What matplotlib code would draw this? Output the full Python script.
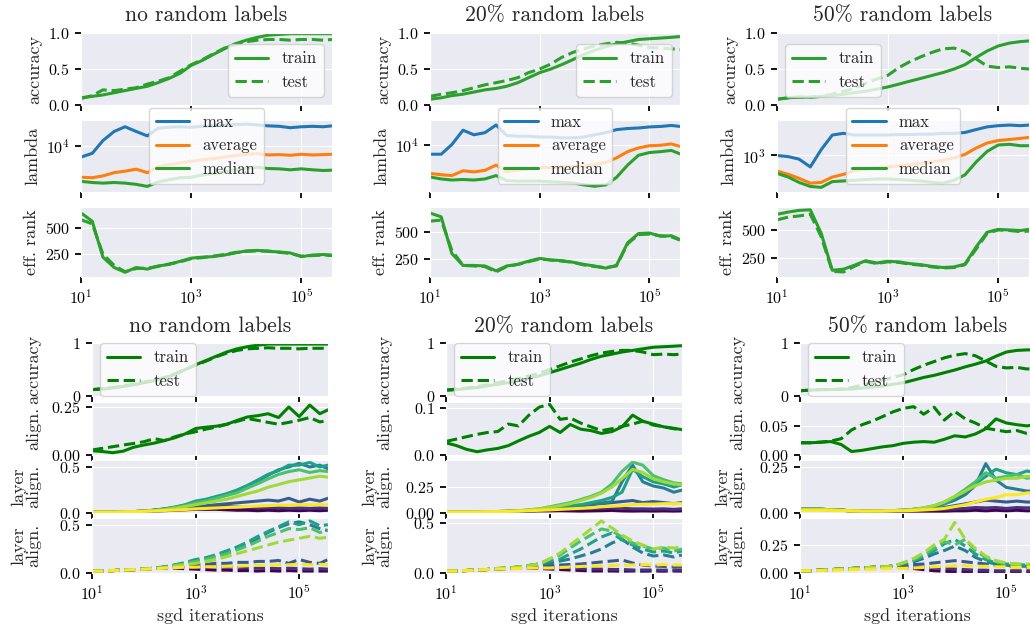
import numpy as np
import matplotlib
matplotlib.use("Agg")
import matplotlib.pyplot as plt
from matplotlib.ticker import NullLocator
import seaborn as sns

# ------ DATA

iters = [10, 16, 25, 40, 63, 100, 160, 250, 400, 630, 1000, 1600, 2500, 4000,
         6300, 10000, 16000, 25000, 40000, 63000, 100000, 160000, 250000, 360000]

titles = ["no random labels", "20% random labels", "50% random labels"]

# top block: accuracy
acc_train = [
    [0.10, 0.12, 0.14, 0.17, 0.20, 0.23, 0.26, 0.31, 0.37, 0.44, 0.55, 0.62, 0.70, 0.78, 0.85, 0.90, 0.94, 0.97, 0.98, 0.99, 0.99, 0.99, 0.99, 0.99],
    [0.08, 0.10, 0.13, 0.15, 0.18, 0.21, 0.23, 0.26, 0.31, 0.38, 0.45, 0.50, 0.56, 0.63, 0.70, 0.76, 0.81, 0.85, 0.88, 0.91, 0.92, 0.93, 0.94, 0.95],
    [0.08, 0.10, 0.11, 0.11, 0.12, 0.13, 0.15, 0.17, 0.19, 0.22, 0.25, 0.29, 0.33, 0.37, 0.41, 0.45, 0.50, 0.56, 0.66, 0.75, 0.82, 0.86, 0.88, 0.89],
]
acc_test = [
    [0.09, 0.13, 0.21, 0.20, 0.22, 0.24, 0.29, 0.33, 0.38, 0.47, 0.56, 0.63, 0.71, 0.79, 0.84, 0.88, 0.90, 0.91, 0.91, 0.90, 0.91, 0.91, 0.90, 0.91],
    [0.12, 0.15, 0.17, 0.20, 0.24, 0.28, 0.31, 0.34, 0.38, 0.45, 0.50, 0.57, 0.66, 0.73, 0.78, 0.82, 0.85, 0.87, 0.86, 0.83, 0.80, 0.79, 0.78, 0.77],
    [0.08, 0.10, 0.11, 0.11, 0.12, 0.15, 0.19, 0.23, 0.30, 0.36, 0.41, 0.52, 0.60, 0.67, 0.73, 0.78, 0.79, 0.74, 0.64, 0.54, 0.52, 0.53, 0.51, 0.50],
]

# top block: lambda (hessian eigenvalues)
lam_max = [
    [5900, 7000, 12500, 19000, 23500, 19000, 15500, 22000, 23000, 23500, 23000, 24000, 24500, 25500, 26000, 26500, 25500, 24500, 24000, 22500, 23500, 24000, 23500, 24500],
    [6500, 6500, 10000, 19000, 15500, 17000, 24000, 15000, 14500, 14500, 14000, 14000, 13500, 13500, 14000, 15500, 17000, 19500, 20500, 21000, 22000, 22500, 23500, 22500],
    [1000, 950, 850, 600, 1300, 2500, 2700, 2500, 2500, 2500, 2500, 2550, 2550, 2600, 2600, 2700, 2700, 2800, 3200, 3600, 3800, 3900, 3800, 3900],
]
lam_avg = [
    [2350, 2300, 2500, 2900, 3100, 3400, 2900, 3800, 4200, 4500, 4900, 5200, 5500, 5900, 6300, 6700, 6900, 6500, 6600, 6400, 6700, 6500, 6600, 6700],
    [2750, 2600, 2500, 3100, 2950, 3150, 4000, 3000, 3200, 3400, 3500, 3600, 3650, 3700, 3800, 4100, 4500, 5500, 7300, 8600, 9500, 9700, 10300, 9200],
    [500, 430, 360, 290, 300, 380, 430, 510, 540, 570, 600, 630, 660, 700, 750, 810, 900, 1050, 1400, 1750, 1950, 2050, 2150, 2250],
]
lam_med = [
    [1950, 1850, 1800, 1850, 1800, 1700, 1550, 1900, 2100, 2300, 2350, 2600, 2800, 3000, 3300, 3600, 3700, 3500, 3450, 3300, 3450, 3300, 3200, 3250],
    [2350, 2150, 2050, 2100, 2050, 2150, 2500, 2000, 1950, 1950, 1950, 1900, 1850, 1800, 1650, 1550, 1650, 2300, 4000, 6200, 7000, 7300, 7700, 6600],
    [450, 380, 300, 250, 240, 310, 320, 330, 340, 350, 350, 340, 330, 320, 300, 290, 330, 420, 750, 1200, 1600, 1650, 1550, 1550],
]
lam_ticks = [1e4, 1e4, 1e3]
lam_lims = [(1200, 32000), (1200, 30000), (195, 4900)]

# top block: effective rank
rank_train = [
    [645, 565, 220, 120, 75, 120, 105, 135, 150, 180, 210, 220, 225, 240, 260, 280, 285, 275, 270, 260, 225, 240, 245, 240],
    [675, 640, 300, 190, 190, 185, 140, 185, 200, 230, 255, 240, 235, 220, 200, 185, 165, 190, 400, 485, 490, 460, 465, 430],
    [640, 660, 675, 680, 470, 140, 150, 185, 225, 205, 220, 215, 200, 190, 175, 165, 170, 195, 350, 480, 505, 500, 495, 505],
]
rank_test = [
    [580, 540, 250, 140, 80, 110, 115, 130, 155, 175, 205, 215, 230, 245, 265, 275, 280, 280, 265, 255, 230, 235, 240, 235],
    [600, 610, 330, 190, 185, 180, 130, 180, 200, 225, 250, 240, 230, 220, 195, 180, 170, 185, 390, 475, 480, 465, 455, 425],
    [590, 615, 625, 640, 440, 130, 125, 175, 220, 200, 215, 210, 195, 185, 170, 160, 165, 190, 330, 470, 500, 495, 485, 490],
]
rank_lims = [(29, 702), (83, 731), (80, 705)]

# bottom block: accuracy
acc2_train = [
    [0.12, 0.13, 0.15, 0.18, 0.21, 0.25, 0.29, 0.34, 0.41, 0.50, 0.59, 0.67, 0.75, 0.83, 0.89, 0.93, 0.96, 0.98, 0.98, 0.98, 0.98, 0.98, 0.98, 0.98],
    [0.11, 0.12, 0.14, 0.16, 0.19, 0.22, 0.25, 0.29, 0.33, 0.38, 0.44, 0.50, 0.56, 0.62, 0.69, 0.75, 0.79, 0.83, 0.86, 0.89, 0.92, 0.93, 0.94, 0.95],
    [0.10, 0.11, 0.12, 0.12, 0.13, 0.13, 0.15, 0.17, 0.19, 0.22, 0.25, 0.30, 0.35, 0.39, 0.44, 0.49, 0.55, 0.60, 0.66, 0.75, 0.83, 0.86, 0.87, 0.87],
]
acc2_test = [
    [0.12, 0.14, 0.16, 0.19, 0.22, 0.26, 0.30, 0.35, 0.42, 0.50, 0.58, 0.66, 0.74, 0.81, 0.86, 0.89, 0.90, 0.91, 0.90, 0.90, 0.89, 0.90, 0.90, 0.90],
    [0.11, 0.13, 0.15, 0.18, 0.21, 0.25, 0.29, 0.33, 0.38, 0.43, 0.50, 0.57, 0.64, 0.70, 0.76, 0.81, 0.84, 0.86, 0.86, 0.83, 0.78, 0.79, 0.78, 0.79],
    [0.10, 0.11, 0.12, 0.12, 0.13, 0.16, 0.20, 0.24, 0.30, 0.35, 0.40, 0.50, 0.58, 0.65, 0.72, 0.77, 0.80, 0.76, 0.66, 0.56, 0.53, 0.54, 0.51, 0.52],
]

# bottom block: alignment of the whole network
align_train = [
    [0.022, 0.018, 0.012, 0.020, 0.040, 0.052, 0.062, 0.075, 0.090, 0.110, 0.138, 0.145, 0.150, 0.160, 0.180, 0.198, 0.205, 0.215, 0.195, 0.250, 0.200, 0.260, 0.215, 0.235],
    [0.026, 0.020, 0.012, 0.007, 0.011, 0.014, 0.020, 0.030, 0.040, 0.048, 0.061, 0.048, 0.065, 0.055, 0.052, 0.046, 0.050, 0.060, 0.085, 0.072, 0.066, 0.060, 0.057, 0.054],
    [0.021, 0.021, 0.022, 0.023, 0.018, 0.006, 0.008, 0.011, 0.014, 0.016, 0.020, 0.022, 0.023, 0.022, 0.027, 0.033, 0.031, 0.036, 0.045, 0.062, 0.055, 0.052, 0.050, 0.052],
]
align_test = [
    [0.026, 0.035, 0.043, 0.052, 0.060, 0.069, 0.085, 0.075, 0.095, 0.110, 0.121, 0.135, 0.145, 0.160, 0.175, 0.190, 0.180, 0.170, 0.160, 0.170, 0.181, 0.195, 0.172, 0.180],
    [0.029, 0.034, 0.039, 0.044, 0.048, 0.050, 0.066, 0.062, 0.085, 0.102, 0.108, 0.076, 0.079, 0.068, 0.060, 0.052, 0.056, 0.061, 0.066, 0.072, 0.064, 0.060, 0.056, 0.054],
    [0.021, 0.021, 0.022, 0.024, 0.028, 0.043, 0.052, 0.058, 0.066, 0.074, 0.080, 0.083, 0.070, 0.082, 0.060, 0.075, 0.062, 0.055, 0.046, 0.043, 0.040, 0.042, 0.037, 0.038],
]
align_ticks = [[0, 0.25], [0, 0.1], [0, 0.05]]
align_tops = [0.276, 0.113, 0.091]

# bottom block: per-layer alignment, 8 layers (first = input side)
layers_train_none = [
    [0.01, 0.01, 0.01, 0.01, 0.012, 0.015, 0.02, 0.025, 0.03, 0.035, 0.04, 0.04, 0.04, 0.035, 0.03, 0.03, 0.025, 0.03, 0.025, 0.03, 0.025, 0.03, 0.025, 0.03],
    [0.01, 0.01, 0.01, 0.012, 0.015, 0.02, 0.03, 0.04, 0.05, 0.055, 0.06, 0.065, 0.07, 0.07, 0.065, 0.06, 0.06, 0.055, 0.06, 0.05, 0.055, 0.05, 0.055, 0.05],
    [0.01, 0.01, 0.01, 0.012, 0.015, 0.02, 0.03, 0.04, 0.05, 0.06, 0.07, 0.08, 0.09, 0.10, 0.11, 0.12, 0.13, 0.14, 0.13, 0.16, 0.12, 0.15, 0.13, 0.16],
    [0.01, 0.01, 0.01, 0.012, 0.015, 0.02, 0.03, 0.045, 0.06, 0.085, 0.12, 0.14, 0.17, 0.20, 0.24, 0.29, 0.35, 0.41, 0.47, 0.50, 0.54, 0.50, 0.52, 0.48],
    [0.01, 0.01, 0.01, 0.012, 0.015, 0.02, 0.03, 0.045, 0.065, 0.09, 0.13, 0.15, 0.18, 0.21, 0.25, 0.30, 0.36, 0.42, 0.46, 0.52, 0.52, 0.55, 0.50, 0.52],
    [0.01, 0.01, 0.01, 0.012, 0.015, 0.02, 0.03, 0.04, 0.06, 0.08, 0.11, 0.13, 0.16, 0.19, 0.22, 0.27, 0.32, 0.37, 0.42, 0.45, 0.47, 0.44, 0.46, 0.45],
    [0.01, 0.01, 0.01, 0.012, 0.015, 0.02, 0.025, 0.035, 0.05, 0.07, 0.09, 0.11, 0.13, 0.15, 0.18, 0.21, 0.24, 0.28, 0.31, 0.34, 0.36, 0.38, 0.40, 0.39],
    [0.01, 0.01, 0.01, 0.012, 0.015, 0.018, 0.022, 0.027, 0.032, 0.038, 0.045, 0.05, 0.055, 0.06, 0.065, 0.07, 0.075, 0.08, 0.085, 0.085, 0.09, 0.09, 0.09, 0.09],
]
layers_test_none = [
    [0.02, 0.02, 0.025, 0.03, 0.035, 0.04, 0.045, 0.05, 0.05, 0.045, 0.04, 0.035, 0.03, 0.03, 0.025, 0.025, 0.02, 0.025, 0.02, 0.025, 0.02, 0.02, 0.02, 0.02],
    [0.02, 0.02, 0.025, 0.03, 0.035, 0.04, 0.05, 0.055, 0.06, 0.065, 0.07, 0.07, 0.065, 0.06, 0.06, 0.055, 0.05, 0.05, 0.045, 0.05, 0.045, 0.04, 0.045, 0.04],
    [0.02, 0.02, 0.025, 0.03, 0.035, 0.04, 0.05, 0.06, 0.07, 0.08, 0.09, 0.09, 0.10, 0.10, 0.11, 0.11, 0.12, 0.12, 0.13, 0.10, 0.14, 0.11, 0.10, 0.14],
    [0.02, 0.02, 0.025, 0.03, 0.035, 0.04, 0.05, 0.06, 0.08, 0.10, 0.13, 0.15, 0.18, 0.21, 0.26, 0.31, 0.36, 0.42, 0.47, 0.51, 0.53, 0.50, 0.46, 0.44],
    [0.02, 0.02, 0.025, 0.03, 0.035, 0.04, 0.05, 0.065, 0.085, 0.11, 0.14, 0.16, 0.19, 0.23, 0.27, 0.32, 0.38, 0.43, 0.48, 0.53, 0.50, 0.54, 0.49, 0.50],
    [0.02, 0.02, 0.025, 0.03, 0.035, 0.04, 0.05, 0.06, 0.08, 0.10, 0.12, 0.14, 0.17, 0.20, 0.24, 0.28, 0.33, 0.38, 0.42, 0.46, 0.45, 0.47, 0.42, 0.44],
    [0.02, 0.02, 0.025, 0.03, 0.035, 0.04, 0.045, 0.055, 0.07, 0.085, 0.10, 0.12, 0.14, 0.17, 0.20, 0.23, 0.26, 0.29, 0.32, 0.34, 0.36, 0.38, 0.36, 0.37],
    [0.02, 0.02, 0.025, 0.03, 0.035, 0.04, 0.045, 0.05, 0.055, 0.06, 0.06, 0.065, 0.065, 0.07, 0.07, 0.075, 0.08, 0.08, 0.085, 0.085, 0.09, 0.085, 0.09, 0.085],
]
layers_train_20 = [
    [0.01, 0.01, 0.01, 0.01, 0.01, 0.012, 0.014, 0.016, 0.018, 0.02, 0.02, 0.022, 0.02, 0.018, 0.02, 0.022, 0.025, 0.02, 0.018, 0.02, 0.018, 0.02, 0.018, 0.02],
    [0.01, 0.01, 0.01, 0.01, 0.01, 0.012, 0.015, 0.018, 0.02, 0.025, 0.03, 0.035, 0.04, 0.04, 0.045, 0.045, 0.05, 0.045, 0.04, 0.04, 0.038, 0.04, 0.035, 0.04],
    [0.01, 0.01, 0.01, 0.01, 0.01, 0.012, 0.015, 0.02, 0.025, 0.03, 0.04, 0.05, 0.06, 0.07, 0.08, 0.09, 0.10, 0.11, 0.12, 0.10, 0.11, 0.10, 0.09, 0.10],
    [0.01, 0.01, 0.01, 0.01, 0.012, 0.014, 0.017, 0.02, 0.025, 0.035, 0.045, 0.055, 0.065, 0.075, 0.085, 0.095, 0.11, 0.30, 0.46, 0.30, 0.26, 0.24, 0.20, 0.22],
    [0.01, 0.01, 0.01, 0.01, 0.012, 0.014, 0.017, 0.02, 0.025, 0.035, 0.05, 0.06, 0.07, 0.08, 0.10, 0.12, 0.15, 0.20, 0.42, 0.35, 0.30, 0.28, 0.25, 0.27],
    [0.01, 0.01, 0.01, 0.01, 0.012, 0.014, 0.017, 0.022, 0.03, 0.04, 0.06, 0.08, 0.10, 0.13, 0.16, 0.20, 0.28, 0.40, 0.49, 0.46, 0.36, 0.32, 0.29, 0.28],
    [0.01, 0.01, 0.01, 0.01, 0.012, 0.014, 0.017, 0.022, 0.03, 0.04, 0.055, 0.07, 0.09, 0.12, 0.15, 0.19, 0.25, 0.33, 0.42, 0.39, 0.33, 0.30, 0.28, 0.27],
    [0.01, 0.01, 0.01, 0.01, 0.012, 0.014, 0.016, 0.018, 0.022, 0.026, 0.03, 0.035, 0.04, 0.045, 0.05, 0.06, 0.065, 0.07, 0.08, 0.085, 0.085, 0.09, 0.09, 0.09],
]
layers_test_20 = [
    [0.02, 0.02, 0.025, 0.03, 0.035, 0.04, 0.045, 0.05, 0.05, 0.045, 0.04, 0.035, 0.03, 0.025, 0.02, 0.02, 0.02, 0.018, 0.02, 0.018, 0.02, 0.018, 0.02, 0.018],
    [0.02, 0.02, 0.025, 0.03, 0.035, 0.04, 0.045, 0.05, 0.055, 0.06, 0.06, 0.055, 0.05, 0.045, 0.04, 0.04, 0.035, 0.035, 0.03, 0.03, 0.03, 0.028, 0.03, 0.028],
    [0.02, 0.02, 0.025, 0.03, 0.035, 0.04, 0.045, 0.055, 0.06, 0.07, 0.075, 0.08, 0.085, 0.09, 0.10, 0.11, 0.12, 0.13, 0.10, 0.08, 0.07, 0.065, 0.06, 0.06],
    [0.02, 0.02, 0.025, 0.03, 0.035, 0.045, 0.05, 0.06, 0.075, 0.09, 0.10, 0.12, 0.14, 0.17, 0.20, 0.24, 0.30, 0.34, 0.26, 0.20, 0.17, 0.18, 0.16, 0.18],
    [0.02, 0.02, 0.025, 0.03, 0.035, 0.045, 0.05, 0.06, 0.075, 0.09, 0.12, 0.14, 0.19, 0.24, 0.30, 0.36, 0.40, 0.33, 0.28, 0.24, 0.21, 0.22, 0.20, 0.22],
    [0.02, 0.02, 0.025, 0.03, 0.035, 0.045, 0.05, 0.06, 0.075, 0.09, 0.14, 0.18, 0.25, 0.32, 0.38, 0.44, 0.42, 0.36, 0.30, 0.27, 0.24, 0.25, 0.22, 0.24],
    [0.02, 0.02, 0.025, 0.03, 0.035, 0.045, 0.05, 0.06, 0.075, 0.09, 0.14, 0.20, 0.28, 0.36, 0.44, 0.52, 0.45, 0.38, 0.32, 0.28, 0.24, 0.26, 0.25, 0.26],
    [0.02, 0.02, 0.025, 0.03, 0.035, 0.04, 0.04, 0.045, 0.05, 0.05, 0.05, 0.055, 0.06, 0.065, 0.07, 0.07, 0.075, 0.08, 0.08, 0.085, 0.08, 0.085, 0.08, 0.08],
]
layers_train_50 = [
    [0.02, 0.02, 0.02, 0.018, 0.015, 0.012, 0.01, 0.01, 0.01, 0.01, 0.01, 0.01, 0.01, 0.01, 0.01, 0.012, 0.012, 0.015, 0.012, 0.015, 0.012, 0.015, 0.012, 0.013],
    [0.02, 0.02, 0.02, 0.018, 0.015, 0.012, 0.01, 0.01, 0.01, 0.011, 0.012, 0.014, 0.016, 0.018, 0.02, 0.022, 0.025, 0.03, 0.028, 0.03, 0.025, 0.03, 0.028, 0.03],
    [0.02, 0.02, 0.02, 0.018, 0.015, 0.012, 0.01, 0.01, 0.011, 0.012, 0.014, 0.016, 0.02, 0.025, 0.03, 0.04, 0.05, 0.06, 0.07, 0.065, 0.06, 0.065, 0.06, 0.06],
    [0.02, 0.02, 0.02, 0.018, 0.015, 0.012, 0.01, 0.01, 0.011, 0.013, 0.015, 0.02, 0.025, 0.035, 0.05, 0.07, 0.10, 0.15, 0.27, 0.18, 0.14, 0.13, 0.12, 0.12],
    [0.02, 0.02, 0.02, 0.018, 0.015, 0.012, 0.01, 0.01, 0.011, 0.013, 0.015, 0.02, 0.025, 0.035, 0.05, 0.08, 0.12, 0.16, 0.20, 0.24, 0.22, 0.21, 0.23, 0.22],
    [0.02, 0.02, 0.02, 0.018, 0.015, 0.012, 0.01, 0.01, 0.011, 0.013, 0.015, 0.02, 0.028, 0.04, 0.06, 0.09, 0.13, 0.17, 0.22, 0.19, 0.20, 0.21, 0.19, 0.20],
    [0.02, 0.02, 0.02, 0.018, 0.015, 0.012, 0.01, 0.01, 0.011, 0.013, 0.015, 0.02, 0.028, 0.04, 0.06, 0.09, 0.12, 0.15, 0.17, 0.18, 0.19, 0.19, 0.20, 0.20],
    [0.015, 0.015, 0.015, 0.014, 0.013, 0.012, 0.011, 0.011, 0.011, 0.012, 0.012, 0.014, 0.017, 0.02, 0.025, 0.035, 0.045, 0.06, 0.075, 0.085, 0.10, 0.10, 0.11, 0.11],
]
layers_test_50 = [
    [0.02, 0.02, 0.025, 0.03, 0.035, 0.04, 0.045, 0.05, 0.055, 0.06, 0.05, 0.04, 0.03, 0.02, 0.015, 0.012, 0.01, 0.01, 0.01, 0.01, 0.01, 0.01, 0.01, 0.01],
    [0.02, 0.02, 0.025, 0.03, 0.035, 0.04, 0.045, 0.05, 0.055, 0.06, 0.06, 0.055, 0.05, 0.045, 0.04, 0.035, 0.03, 0.025, 0.025, 0.02, 0.02, 0.02, 0.02, 0.02],
    [0.02, 0.02, 0.025, 0.03, 0.035, 0.04, 0.045, 0.05, 0.055, 0.06, 0.07, 0.075, 0.08, 0.09, 0.10, 0.11, 0.10, 0.09, 0.08, 0.07, 0.06, 0.055, 0.05, 0.05],
    [0.02, 0.02, 0.025, 0.03, 0.035, 0.04, 0.045, 0.05, 0.055, 0.06, 0.08, 0.10, 0.13, 0.17, 0.20, 0.24, 0.20, 0.14, 0.10, 0.08, 0.07, 0.06, 0.06, 0.06],
    [0.02, 0.02, 0.025, 0.03, 0.035, 0.04, 0.045, 0.05, 0.055, 0.06, 0.085, 0.11, 0.15, 0.20, 0.26, 0.30, 0.24, 0.17, 0.12, 0.09, 0.08, 0.075, 0.07, 0.07],
    [0.02, 0.02, 0.025, 0.03, 0.035, 0.04, 0.045, 0.05, 0.055, 0.06, 0.09, 0.12, 0.16, 0.22, 0.28, 0.25, 0.30, 0.20, 0.14, 0.10, 0.08, 0.08, 0.07, 0.07],
    [0.02, 0.02, 0.025, 0.03, 0.035, 0.04, 0.045, 0.05, 0.055, 0.06, 0.09, 0.13, 0.18, 0.25, 0.30, 0.45, 0.30, 0.22, 0.15, 0.11, 0.09, 0.08, 0.08, 0.07],
    [0.02, 0.02, 0.022, 0.025, 0.028, 0.03, 0.032, 0.035, 0.037, 0.04, 0.042, 0.045, 0.05, 0.055, 0.06, 0.065, 0.065, 0.06, 0.06, 0.055, 0.055, 0.05, 0.05, 0.05],
]
layers_train = [layers_train_none, layers_train_20, layers_train_50]
layers_test = [layers_test_none, layers_test_20, layers_test_50]
layer_train_ticks = [[0, 0.5], [0, 0.25], [0, 0.25]]
layer_train_tops = [0.576, 0.51, 0.29]
layer_test_ticks = [[0, 0.5], [0, 0.5], [0, 0.25]]
layer_test_tops = [0.57, 0.55, 0.49]

# ------ STYLE

sns.set_style("darkgrid")
plt.rcParams["font.family"] = ["cmr10", "DejaVu Serif"]
plt.rcParams.update({
    "mathtext.fontset": "cm",
    "axes.formatter.use_mathtext": True,
    "axes.unicode_minus": False,
    "xtick.bottom": True, "ytick.left": True,
    "xtick.major.size": 4.5, "ytick.major.size": 4.5,
    "xtick.major.width": 1.3, "ytick.major.width": 1.3,
    "xtick.color": "black", "ytick.color": "black",
    "xtick.labelsize": 11.5, "ytick.labelsize": 11.5,
    "axes.labelsize": 13, "axes.titlesize": 15.5,
    "legend.fontsize": 12,
    "lines.linewidth": 2.2,
})

W, H = 1030, 626
fig = plt.figure(figsize=(W / 100, H / 100), dpi=100)


def place(cols, rows):
    (x0, x1), (y0, y1) = cols, rows
    return fig.add_axes([x0 / W, 1 - y1 / H, (x1 - x0) / W, (y1 - y0) / H])


def log_x(ax, labels):
    ax.set_xscale("log")
    ax.set_xlim(iters[0], iters[-1])
    ax.set_xticks([1e1, 1e3, 1e5])
    ax.xaxis.set_minor_locator(NullLocator())
    ax.tick_params(axis="x", labelbottom=labels)


def legend(ax, loc):
    return ax.legend(loc=loc, frameon=True, facecolor="white", framealpha=0.8,
                     edgecolor="#cccccc")


top_cols = [(81, 332), (430, 680), (777, 1029)]
top_rows = [(33, 105), (120, 192), (207, 277)]
bot_cols = [(92, 328), (446, 682), (800, 1035)]
bot_rows = [(343, 396), (402, 455), (460, 513), (518, 573)]
bot_label_x = [41, 392, 745]
acc_loc = ["lower right", "lower right", "lower left"]
layer_colors = plt.cm.viridis(np.linspace(0, 1, 8))

for c in range(3):
    # --- top block
    ax = place(top_cols[c], top_rows[0])
    ax.plot(iters, acc_train[c], color="tab:green", label="train")
    ax.plot(iters, acc_test[c], color="tab:green", ls="--", label="test")
    ax.set_ylim(0, 1)
    ax.set_yticks([0, 0.5, 1])
    ax.set_ylabel("accuracy")
    ax.set_title(titles[c], pad=8.5)
    log_x(ax, False)
    legend(ax, acc_loc[c])

    ax = place(top_cols[c], top_rows[1])
    ax.plot(iters, lam_max[c], color="tab:blue", label="max")
    ax.plot(iters, lam_avg[c], color="tab:orange", label="average")
    ax.plot(iters, lam_med[c], color="tab:green", label="median")
    ax.set_yscale("log")
    ax.set_ylim(*lam_lims[c])
    ax.set_yticks([lam_ticks[c]])
    ax.yaxis.set_minor_locator(NullLocator())
    ax.set_ylabel("lambda")
    log_x(ax, False)
    legend(ax, "lower center")

    ax = place(top_cols[c], top_rows[2])
    ax.plot(iters, rank_train[c], color="tab:green")
    ax.plot(iters, rank_test[c], color="tab:green", ls="--")
    ax.set_ylim(*rank_lims[c])
    ax.set_yticks([250, 500])
    ax.set_ylabel("eff. rank")
    log_x(ax, True)

    # --- bottom block
    lx = (bot_label_x[c] - bot_cols[c][0]) / (bot_cols[c][1] - bot_cols[c][0])

    ax = place(bot_cols[c], bot_rows[0])
    ax.plot(iters, acc2_train[c], color="green", label="train")
    ax.plot(iters, acc2_test[c], color="green", ls="--", label="test")
    ax.set_ylim(0, 1)
    ax.set_yticks([0, 1])
    ax.set_ylabel("accuracy")
    ax.yaxis.set_label_coords(lx, 0.5)
    ax.set_title(titles[c], pad=8)
    log_x(ax, False)
    legend(ax, "center left")

    ax = place(bot_cols[c], bot_rows[1])
    ax.plot(iters, align_train[c], color="green")
    ax.plot(iters, align_test[c], color="green", ls="--")
    ax.set_ylim(0, align_tops[c])
    ax.set_yticks(align_ticks[c])
    ax.set_ylabel("align.")
    ax.yaxis.set_label_coords(lx, 0.5)
    log_x(ax, False)

    ax = place(bot_cols[c], bot_rows[2])
    for k in range(8):
        ax.plot(iters, layers_train[c][k], color=layer_colors[k])
    ax.set_ylim(0, layer_train_tops[c])
    ax.set_yticks(layer_train_ticks[c])
    ax.set_ylabel("layer\nalign.", linespacing=0.9)
    ax.yaxis.set_label_coords(lx, 0.5)
    log_x(ax, False)

    ax = place(bot_cols[c], bot_rows[3])
    for k in range(8):
        ax.plot(iters, layers_test[c][k], color=layer_colors[k], ls="--")
    ax.set_ylim(0, layer_test_tops[c])
    ax.set_yticks(layer_test_ticks[c])
    ax.set_ylabel("layer\nalign.", linespacing=0.9)
    ax.yaxis.set_label_coords(lx, 0.5)
    ax.set_xlabel("sgd iterations")
    log_x(ax, True)

fig.savefig("out.png", dpi=100)
